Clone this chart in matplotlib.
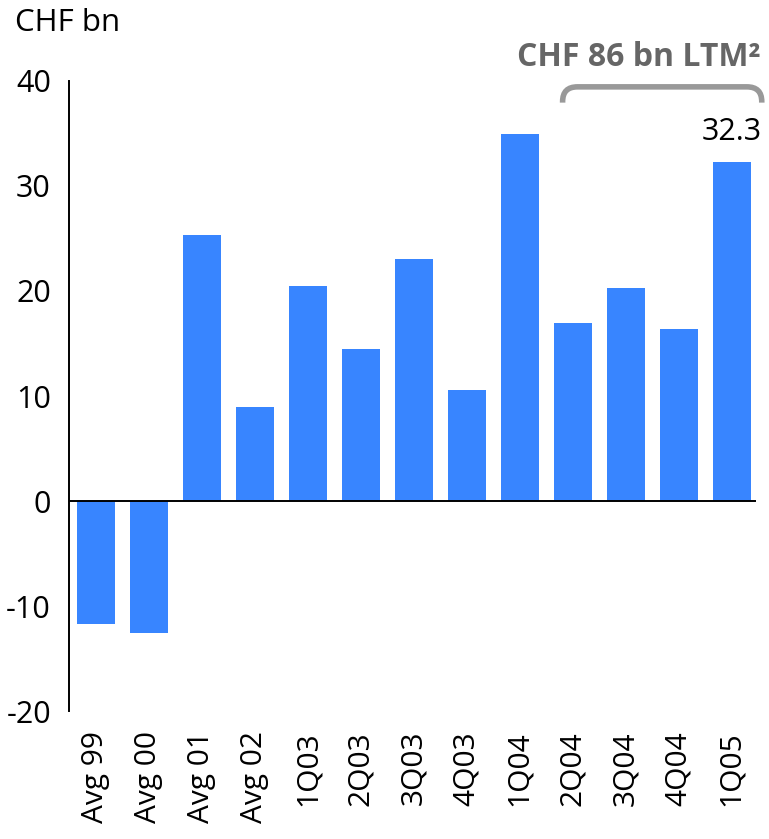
import matplotlib
matplotlib.use("Agg")
import matplotlib.pyplot as plt
from matplotlib.path import Path
from matplotlib.patches import PathPatch
import numpy as np

categories = ["Avg 99", "Avg 00", "Avg 01", "Avg 02", "1Q03", "2Q03", "3Q03",
              "4Q03", "1Q04", "2Q04", "3Q04", "4Q04", "1Q05"]
values = [-11.7, -12.5, 25.3, 9.0, 20.5, 14.5, 23.0, 10.6, 34.9, 16.9, 20.3, 16.4, 32.3]
yticks = [-20, -10, 0, 10, 20, 30, 40]

plt.rcParams['font.family'] = ['Open Sans', 'DejaVu Sans']

fig = plt.figure(figsize=(7.69, 8.39), dpi=100)
ax = fig.add_axes([0.0897, 0.152, 0.894, 0.752])

x = np.arange(len(categories))
ax.bar(x, values, width=0.72, color="#3885FF", zorder=2)
ax.axhline(0, color="black", lw=1.4, zorder=3)

ax.set_xlim(-0.51, 12.47)
ax.set_ylim(-20, 40)
ax.set_yticks(yticks)
ax.set_yticklabels([str(t) for t in yticks], fontsize=22)
ax.set_xticks(x)
ax.set_xticklabels(categories, rotation=90, fontsize=21.5)
ax.tick_params(axis='both', length=0)
ax.tick_params(axis='y', pad=13)
ax.tick_params(axis='x', pad=14)

for s in ['top', 'right', 'bottom']:
    ax.spines[s].set_visible(False)
ax.spines['left'].set_linewidth(1.4)

# value label on last bar
ax.text(x[-1], values[-1] + 1.4, f"{values[-1]:.1f}", ha='center', va='bottom',
        fontsize=22, color='black')

# bracket over last four quarters
x0, x1 = 8.81, 12.57
ytop, ybot = 39.4, 37.9
rx, ry = 0.28, 1.4
verts = [(x0, ybot), (x0, ytop - ry), (x0, ytop), (x0 + rx, ytop),
         (x1 - rx, ytop), (x1, ytop), (x1, ytop - ry), (x1, ybot)]
codes = [Path.MOVETO, Path.LINETO, Path.CURVE3, Path.CURVE3,
         Path.LINETO, Path.CURVE3, Path.CURVE3, Path.LINETO]
ax.add_patch(PathPatch(Path(verts, codes), fill=False, edgecolor="#999999",
                       lw=4, clip_on=False, capstyle='butt'))
ax.text(10.25, 42.2, "CHF 86 bn LTM\u00b2", ha='center', va='center',
        fontsize=23, fontweight='bold', color="#666666", clip_on=False)

fig.text(0.02, 0.973, "CHF bn", ha='left', va='center', fontsize=22.5)

fig.savefig("out.png", dpi=100)
